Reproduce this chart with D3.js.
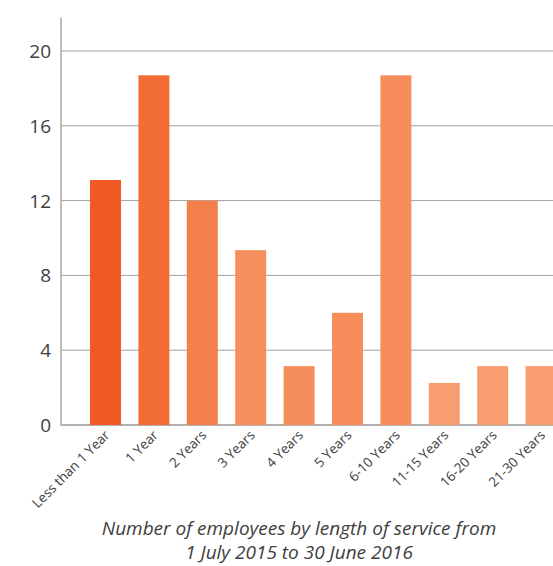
<!DOCTYPE html>
<html>
<head>
<meta charset="utf-8">
<script src="https://cdn.jsdelivr.net/npm/d3@7"></script>
<style>
  body { margin: 0; background: #fff; }
  svg { display: block; font-family: "Open Sans", "Noto Sans", sans-serif; }
</style>
</head>
<body>
<div id="chart"></div>
<script>
var categories = ["Less than 1 Year", "1 Year", "2 Years", "3 Years", "4 Years",
  "5 Years", "6-10 Years", "11-15 Years", "16-20 Years", "21-30 Years"];
var values = [13.1, 18.7, 12, 9.35, 3.15, 6, 18.7, 2.25, 3.15, 3.15];
var barColors = ["#f15a22", "#f26d35", "#f3804a", "#f68f5d", "#f68e5c",
  "#f68d5b", "#f68d5b", "#f79d6f", "#f79d6f", "#f79d6f"];
var yTicks = [0, 4, 8, 12, 16, 20];
var captionLines = ["Number of employees by length of service from",
  "1 July 2015 to 30 June 2016"];

var width = 553, height = 566;
var svg = d3.select("#chart").append("svg")
  .attr("width", width)
  .attr("height", height);

// step 48.4, bar width ~31, first bar starting at x=90
var x = d3.scaleBand()
  .domain(categories)
  .range([60, 60 + 48.4 * 10.88])
  .paddingInner(0.36)
  .paddingOuter(0.62);

var y = d3.scaleLinear()
  .domain([0, 20])
  .range([425, 51]);

// grid lines
svg.append("g")
  .selectAll("line")
  .data(yTicks)
  .enter()
  .append("line")
  .attr("x1", 61)
  .attr("x2", width)
  .attr("y1", function(d) { return y(d); })
  .attr("y2", function(d) { return y(d); })
  .attr("stroke", function(d) { return d === 0 ? "#b0b0b0" : "#a0a0a0"; })
  .attr("stroke-width", function(d) { return d === 0 ? 2 : 1; });

// bars
svg.append("g")
  .selectAll("rect")
  .data(values)
  .enter()
  .append("rect")
  .attr("x", function(d, i) { return x(categories[i]); })
  .attr("y", function(d) { return y(d); })
  .attr("width", x.bandwidth())
  .attr("height", function(d) { return y(0) - y(d); })
  .attr("fill", function(d, i) { return barColors[i]; });

// y axis line
svg.append("line")
  .attr("x1", 61).attr("x2", 61)
  .attr("y1", 18).attr("y2", 426)
  .attr("stroke", "#bdbdbd")
  .attr("stroke-width", 2);

// y tick labels
svg.append("g")
  .selectAll("text")
  .data(yTicks)
  .enter()
  .append("text")
  .attr("x", 51)
  .attr("y", function(d) { return y(d) + 7; })
  .attr("text-anchor", "end")
  .attr("font-size", 19)
  .attr("fill", "#404040")
  .text(function(d) { return d; });

// x labels
svg.append("g")
  .selectAll("text")
  .data(categories)
  .enter()
  .append("text")
  .attr("transform", function(d) {
    return "translate(" + (x(d) + x.bandwidth() / 2 + 5) + ",436) rotate(-45)";
  })
  .attr("text-anchor", "end")
  .attr("font-size", 13.5)
  .attr("fill", "#404040")
  .text(function(d) { return d; });

// caption
svg.append("g")
  .selectAll("text")
  .data(captionLines)
  .enter()
  .append("text")
  .attr("x", 299)
  .attr("y", function(d, i) { return 535 + i * 24; })
  .attr("text-anchor", "middle")
  .attr("font-size", 19)
  .attr("font-style", "italic")
  .attr("fill", "#404040")
  .text(function(d) { return d; });
</script>
</body>
</html>
